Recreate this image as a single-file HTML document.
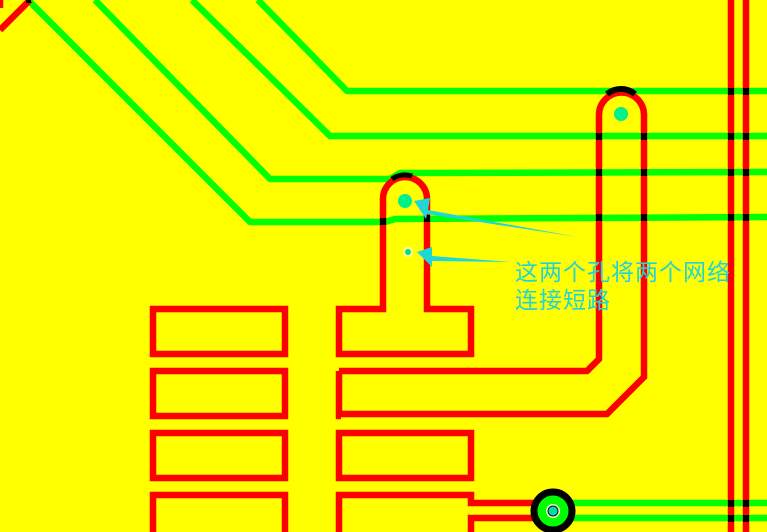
<!DOCTYPE html>
<html><head><meta charset="utf-8"><style>
html,body{margin:0;padding:0;background:#ffff00;}
svg{display:block}
</style></head><body>
<svg width="767" height="532" viewBox="0 0 767 532" xmlns="http://www.w3.org/2000/svg">
<rect width="767" height="532" fill="#ffff00"/>
<g fill="none" stroke="#00ff00" stroke-width="6.5" stroke-linejoin="round">
<polyline points="28,0 250,222 385,222 395,219 767,217"/>
<polyline points="95,0 270,179 390,179 400,173 767,172"/>
<polyline points="192,0 330,136 767,136"/>
<polyline points="258,0 347,91 767,91"/>
<polyline points="550,503 767,503"/>
<polyline points="550,518 767,518"/>
</g>
<g fill="none" stroke="#ff0000" stroke-width="6.5" stroke-linejoin="miter">
<polyline points="0,30 30,0"/>
<line x1="0" y1="0" x2="0" y2="8"/>
<line x1="731" y1="0" x2="731" y2="532"/>
<line x1="746" y1="0" x2="746" y2="532"/>
<path d="M339,371 L587,371 L599,359 L599,115 A22,22 0 0 1 644,115 L644,377 L607,414 L339,414"/>
<rect x="153" y="309" width="132" height="45"/>
<rect x="153" y="371" width="132" height="45"/>
<rect x="153" y="433" width="132" height="45"/>
<rect x="153" y="495" width="132" height="45"/>
<path d="M339,309 L383,309 L383,199 A22,22 0 0 1 427,199 L427,309 L471,309 L471,354 L339,354 Z"/>
<polyline points="339,371 339,416 341,416"/>
<rect x="339" y="433" width="132" height="45"/>
<path d="M339,532 L339,495 L471,495 L471,503 L540,503 M540,518 L471,518 L471,532"/>
</g>
<g fill="#000">
<rect x="380" y="218" width="6" height="7"/>
<rect x="424" y="215" width="6" height="7"/>
<rect x="596" y="133" width="6" height="7"/>
<rect x="641" y="133" width="6" height="7"/>
<rect x="596" y="169" width="6" height="7"/>
<rect x="641" y="169" width="6" height="7"/>
<rect x="596" y="214" width="6" height="7"/>
<rect x="641" y="214" width="6" height="7"/>
<rect x="728" y="88" width="6" height="7"/><rect x="743" y="88" width="6" height="7"/>
<rect x="728" y="133" width="6" height="7"/><rect x="743" y="133" width="6" height="7"/>
<rect x="728" y="169" width="6" height="7"/><rect x="743" y="169" width="6" height="7"/>
<rect x="728" y="214" width="6" height="7"/><rect x="743" y="214" width="6" height="7"/>
<rect x="728" y="500" width="6" height="7"/><rect x="743" y="500" width="6" height="7"/>
<rect x="728" y="515" width="6" height="7"/><rect x="743" y="515" width="6" height="7"/>
<rect x="26" y="0" width="5" height="3"/>
</g>
<path d="M607,94 A22,22 0 0 1 635,94" stroke="#000" stroke-width="6" fill="none"/>
<path d="M392,179 A22,22 0 0 1 412,176" stroke="#000" stroke-width="5" fill="none"/>
<circle cx="621" cy="114" r="7" fill="#00f08c"/>
<circle cx="405" cy="201" r="7" fill="#00f08c"/>
<circle cx="408" cy="252" r="5" fill="#ffffa0"/>
<circle cx="408" cy="252" r="3" fill="#00e080"/>
<circle cx="553" cy="511" r="19" fill="#00ff00" stroke="#000" stroke-width="7"/>
<circle cx="553" cy="511" r="7" fill="#ffffa0"/>
<circle cx="553" cy="511" r="5" fill="#00e090" stroke="#000080" stroke-width="1"/>
<polygon points="414,201 430,198 428,210 578,237 427,214 426,219" fill="#1ed8d8"/>
<polygon points="417,252 432,247 432,256 510,262 432,261 432,267" fill="#1ed8d8"/>
<text x="515" y="280" font-family="'Liberation Sans','Noto Sans CJK SC',sans-serif" font-size="23" fill="#22d4d4" textLength="215">这两个孔将两个网络</text>
<text x="515" y="308" font-family="'Liberation Sans','Noto Sans CJK SC',sans-serif" font-size="23" fill="#22d4d4" textLength="95">连接短路</text>
</svg>
</body></html>
